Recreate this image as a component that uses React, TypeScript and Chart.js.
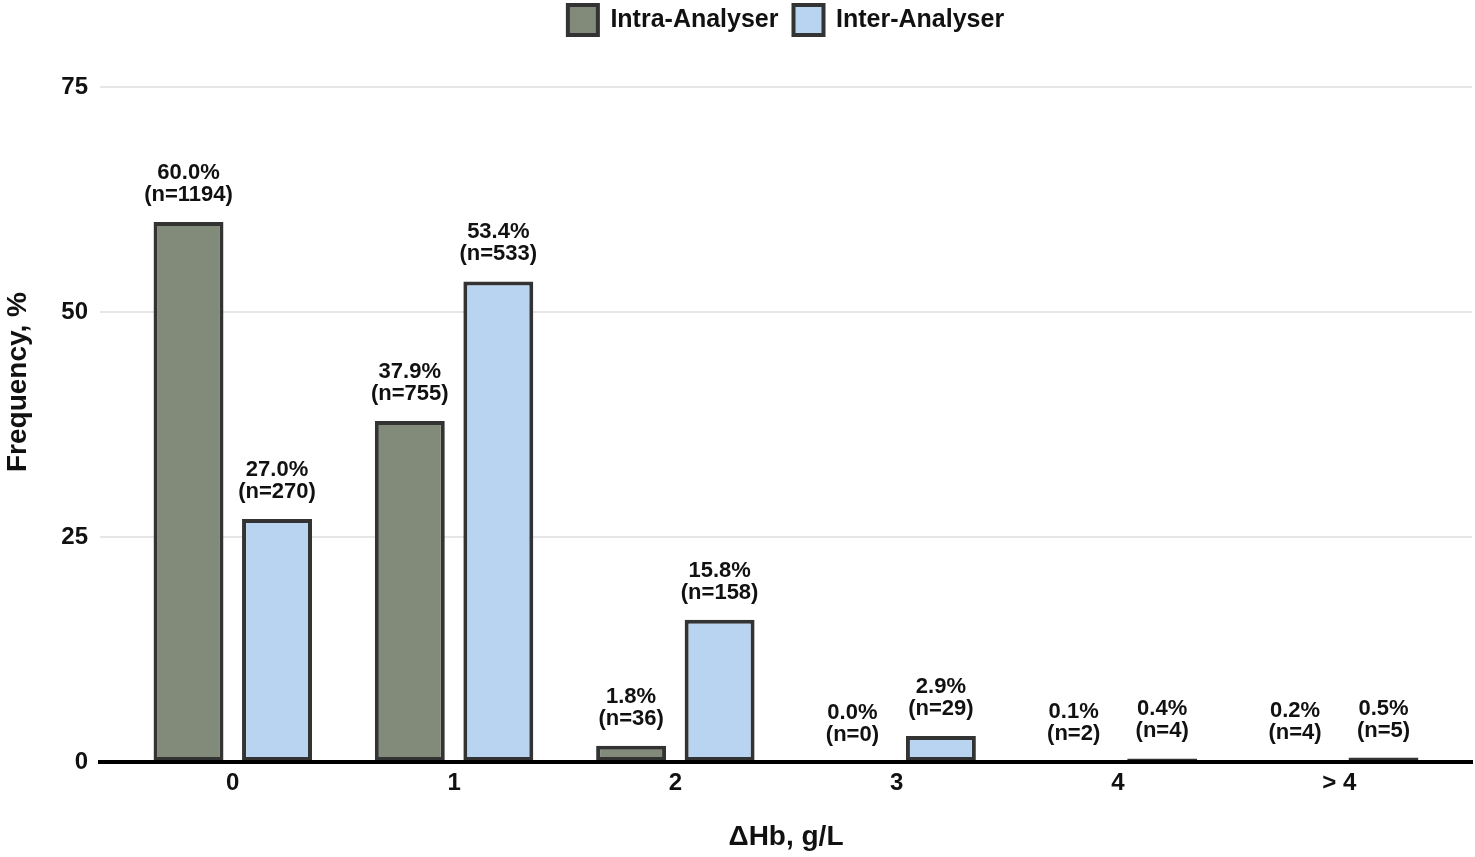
import React, { useEffect, useRef } from "react";
import { Chart, registerables } from "chart.js";

Chart.register(...registerables);

const CATEGORIES = ["0", "1", "2", "3", "4", "> 4"];
const SERIES_NAMES = ["Intra-Analyser", "Inter-Analyser"];
const INTRA_PCT = [60.0, 37.9, 1.8, 0.0, 0.1, 0.2];
const INTRA_N = [1194, 755, 36, 0, 2, 4];
const INTER_PCT = [27.0, 53.4, 15.8, 2.9, 0.4, 0.5];
const INTER_N = [270, 533, 158, 29, 4, 5];
const Y_TICKS = [0, 25, 50, 75];

const FONT = "'Liberation Sans', Arial, Helvetica, sans-serif";
const COUNTS = [INTRA_N, INTER_N];

const barLabels = {
  id: "barLabels",
  afterDatasetsDraw(chart: any) {
    const ctx = chart.ctx;
    ctx.save();
    ctx.font = `bold 22px ${FONT}`;
    ctx.fillStyle = "#111";
    ctx.textAlign = "center";
    ctx.textBaseline = "middle";
    chart.data.datasets.forEach((ds: any, di: number) => {
      const meta = chart.getDatasetMeta(di);
      meta.data.forEach((bar: any, j: number) => {
        const v = ds.data[j].y as number;
        ctx.fillText(`${v.toFixed(1)}%`, bar.x, bar.y - 49);
        ctx.fillText(`(n=${COUNTS[di][j]})`, bar.x, bar.y - 27);
      });
    });
    ctx.restore();
  },
};

const overlayLegend = {
  id: "overlayLegend",
  afterInit(chart: any) {
    const legend = chart.legend;
    if (!legend) return;
    const fit = legend.fit.bind(legend);
    legend.fit = () => {
      fit();
      legend._realHeight = legend.height;
      legend.height = 0;
    };
  },
  afterLayout(chart: any) {
    const legend = chart.legend;
    if (!legend) return;
    const area = chart.chartArea;
    legend.top = -10;
    legend.height = legend._realHeight;
    legend.bottom = legend.top + legend._realHeight;
    legend.left = area.left;
    legend.right = area.right;
    legend.width = area.right - area.left;
  },
};

export default function App() {
  const ref = useRef<HTMLCanvasElement | null>(null);

  useEffect(() => {
    document.body.style.margin = "0";
    if (!ref.current) return;
    Chart.defaults.font.family = FONT;
    const chart = new Chart(ref.current, {
      type: "bar",
      data: {
        datasets: [
          {
            label: SERIES_NAMES[0],
            data: CATEGORIES.map((_, i) => ({ x: i, y: INTRA_PCT[i] })),
            backgroundColor: "#828b7a",
            borderColor: "#333333",
            borderWidth: 4,
            borderSkipped: false,
            categoryPercentage: 0.8,
            barPercentage: 0.79,
          },
          {
            label: SERIES_NAMES[1],
            data: CATEGORIES.map((_, i) => ({ x: i, y: INTER_PCT[i] })),
            backgroundColor: "#b9d4f0",
            borderColor: "#333333",
            borderWidth: 4,
            borderSkipped: false,
            categoryPercentage: 0.8,
            barPercentage: 0.79,
          },
        ] as any,
      },
      options: {
        animation: false,
        responsive: false,
        devicePixelRatio: 1,
        layout: { padding: { top: 2, right: 3, left: 0, bottom: 0 } },
        plugins: {
          legend: {
            display: true,
            position: "top",
            align: "center",
            labels: {
              boxWidth: 30,
              boxHeight: 30,
              padding: 15,
              color: "#111",
              font: { size: 25, weight: "bold", family: FONT },
            },
          },
          tooltip: { enabled: false },
        },
        scales: {
          x: {
            type: "linear",
            offset: false,
            min: -0.6,
            max: 5.6,
            afterBuildTicks: (scale: any) => {
              scale.ticks = CATEGORIES.map((_, i) => ({ value: i }));
            },
            afterFit: (scale: any) => {
              scale.height = 95;
              scale.paddingLeft = 0;
              scale.paddingRight = 0;
            },
            ticks: {
              autoSkip: false,
              maxRotation: 0,
              padding: 7,
              color: "#111",
              font: { size: 24, weight: "bold", family: FONT },
              callback: (v: any) => CATEGORIES[Number(v)] ?? "",
            },
            grid: { display: false, drawTicks: false },
            border: { display: true, color: "#000", width: 4, z: 1 },
            title: {
              display: true,
              text: "ΔHb, g/L",
              color: "#111",
              font: { size: 28, weight: "bold", family: FONT },
              padding: { top: 0, bottom: 3 },
            },
          },
          y: {
            type: "linear",
            min: 0,
            max: 760 / 9,
            afterBuildTicks: (scale: any) => {
              scale.ticks = Y_TICKS.map((v) => ({ value: v }));
            },
            afterFit: (scale: any) => {
              scale.width = 100;
              scale.paddingTop = 0;
              scale.paddingBottom = 0;
            },
            ticks: {
              padding: 12,
              color: "#111",
              font: { size: 24, weight: "bold", family: FONT },
            },
            grid: { color: "#e6e6e6", lineWidth: 2, drawTicks: false },
            border: { display: false },
            title: {
              display: true,
              text: "Frequency, %",
              color: "#111",
              font: { size: 28, weight: "bold", family: FONT },
              padding: { top: 1, bottom: 0 },
            },
          },
        },
      } as any,
      plugins: [barLabels, overlayLegend],
    });
    return () => chart.destroy();
  }, []);

  return (
    <div style={{ width: 1475, height: 857 }}>
      <canvas ref={ref} width={1475} height={857} style={{ display: "block" }} />
    </div>
  );
}
